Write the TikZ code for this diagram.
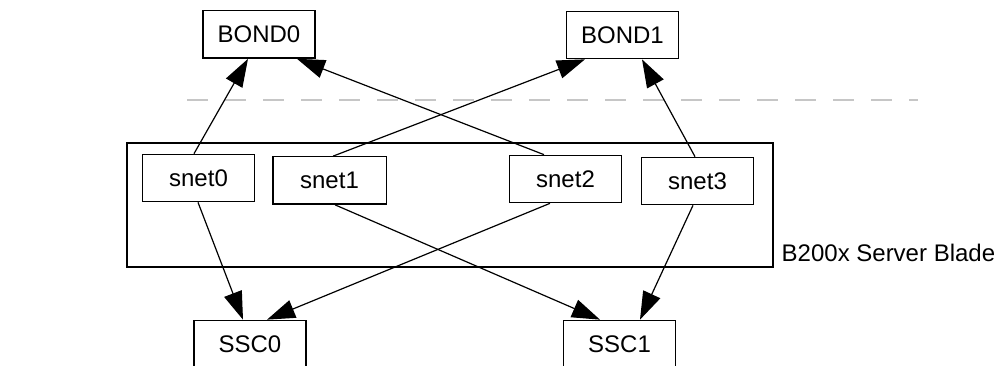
\documentclass[tikz,border=0pt]{standalone}
\usepackage{fontspec}
\setmainfont{Liberation Sans}
\usetikzlibrary{arrows.meta,calc}
\tikzset{
  card/.style={draw,line width=1pt,minimum width=84pt,minimum height=35.5pt,inner sep=0pt,font=\fontsize{18}{22}\selectfont},
  link/.style={line width=0.9pt,-{Triangle[length=21pt,width=14pt]}}
}
\begin{document}
\begin{tikzpicture}[x=0.75pt,y=0.75pt,yscale=-1,xscale=1]
  \useasboundingbox (0,0) rectangle (1001,366);
  % divider
  \draw[gray!45,line width=1.2pt,dash pattern=on 16pt off 12.5pt] (187,100) -- (918,100);
  % blade
  \draw[line width=1pt] (127,143) rectangle (773,267);
  \draw (777,253) node[anchor=west,font=\fontsize{18}{22}\selectfont] (blade) {B200x Server Blade};

  \node[card] (bond0) at (259,34.5) {BOND0};
  \node[card] (bond1) at (622.5,35) {BOND1};
  \node[card] (snet0) at (198.5,178) {snet0};
  \node[card,minimum width=85pt] (snet1) at (329.5,180.5) {snet1};
  \node[card] (snet2) at (565.5,179) {snet2};
  \node[card] (snet3) at (697.5,181) {snet3};
  \node[card] (ssc0) at (250,344) {SSC0};
  \node[card] (ssc1) at (619.5,344) {SSC1};

  \draw[link] ($(snet0.north)+(-4.5,0)$) -- ($(bond0.south)+(-11,0)$);
  \draw[link] ($(snet2.north)+(-21.5,0)$) -- ($(bond0.south)+(38,0)$);
  \draw[link] ($(snet1.north)+(3.5,0)$) -- ($(bond1.south)+(-37.5,0)$);
  \draw[link] ($(snet3.north)+(-2.5,0)$) -- ($(bond1.south)+(19.5,0)$);
  \draw[link] ($(snet0.south)+(-0.5,0)$) -- ($(ssc0.north)+(-7,0)$);
  \draw[link] ($(snet2.south)+(-15.5,0)$) -- ($(ssc0.north)+(17,0)$);
  \draw[link] ($(snet1.south)+(5.5,0)$) -- ($(ssc1.north)+(-19.5,0)$);
  \draw[link] ($(snet3.south)+(-4.5,0)$) -- ($(ssc1.north)+(20.5,0)$);
\end{tikzpicture}
\end{document}
